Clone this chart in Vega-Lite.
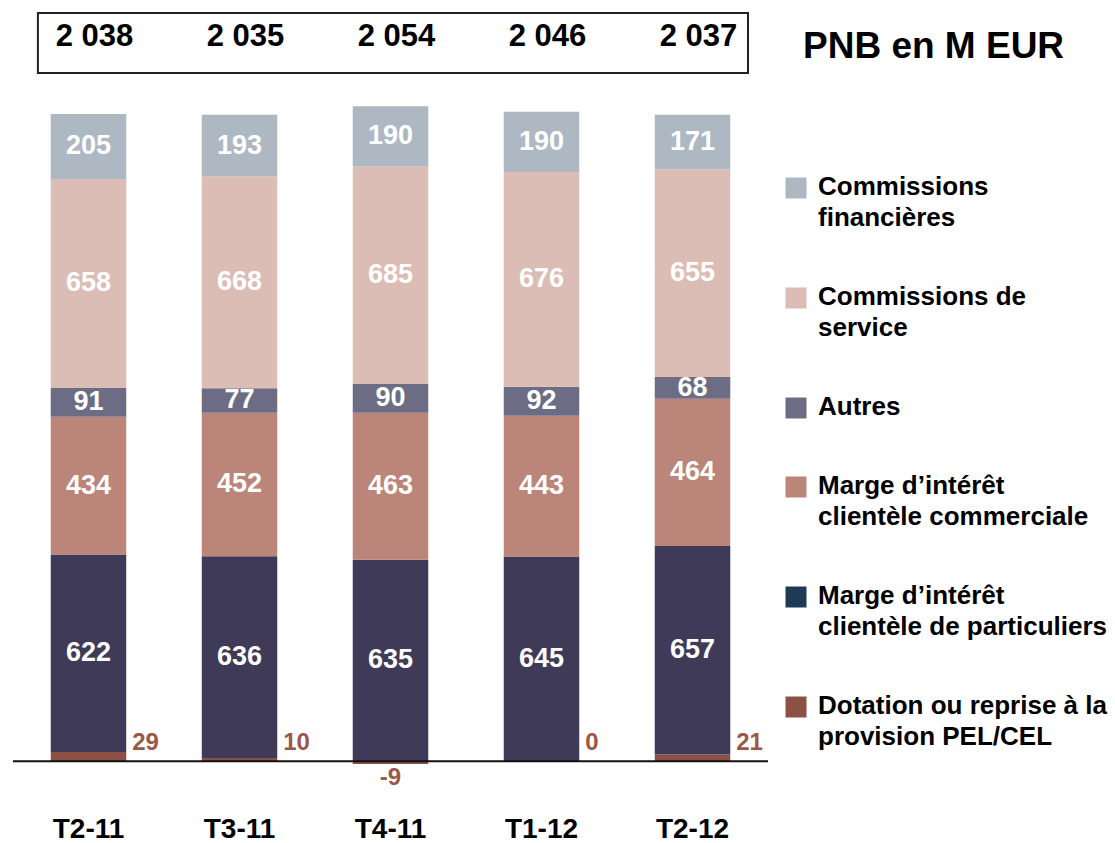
{
  "$schema": "https://vega.github.io/schema/vega-lite/v6.json",
  "autosize": {"type": "none"},
  "width": 755,
  "height": 781,
  "padding": {"left": 13, "top": 12, "right": 347, "bottom": 50},
  "background": "white",
  "config": {
    "view": {"stroke": null},
    "font": "Liberation Sans",
    "locale": {"number": {"decimal": ",", "thousands": " ", "grouping": [3], "currency": ["", " €"], "minus": "-"}},
    "style": {"guide-label": {"lineHeight": 31, "dy": -14}}
  },
  "title": {
    "text": "PNB en M EUR",
    "anchor": "start",
    "frame": "group",
    "orient": "top",
    "fontSize": 37,
    "font": "Liberation Sans",
    "fontWeight": "bold",
    "color": "black",
    "offset": 0,
    "dx": 790,
    "dy": 54
  },
  "datasets": {
    "pnb": [
      {"q": "T2-11", "cat": "Dotation ou reprise à la provision PEL/CEL", "ordre": 1, "value": 29},
      {"q": "T2-11", "cat": "Marge d’intérêt clientèle de particuliers", "ordre": 2, "value": 622},
      {"q": "T2-11", "cat": "Marge d’intérêt clientèle commerciale", "ordre": 3, "value": 434},
      {"q": "T2-11", "cat": "Autres", "ordre": 4, "value": 91},
      {"q": "T2-11", "cat": "Commissions de service", "ordre": 5, "value": 658},
      {"q": "T2-11", "cat": "Commissions financières", "ordre": 6, "value": 205},
      {"q": "T3-11", "cat": "Dotation ou reprise à la provision PEL/CEL", "ordre": 1, "value": 10},
      {"q": "T3-11", "cat": "Marge d’intérêt clientèle de particuliers", "ordre": 2, "value": 636},
      {"q": "T3-11", "cat": "Marge d’intérêt clientèle commerciale", "ordre": 3, "value": 452},
      {"q": "T3-11", "cat": "Autres", "ordre": 4, "value": 77},
      {"q": "T3-11", "cat": "Commissions de service", "ordre": 5, "value": 668},
      {"q": "T3-11", "cat": "Commissions financières", "ordre": 6, "value": 193},
      {"q": "T4-11", "cat": "Dotation ou reprise à la provision PEL/CEL", "ordre": 1, "value": -9},
      {"q": "T4-11", "cat": "Marge d’intérêt clientèle de particuliers", "ordre": 2, "value": 635},
      {"q": "T4-11", "cat": "Marge d’intérêt clientèle commerciale", "ordre": 3, "value": 463},
      {"q": "T4-11", "cat": "Autres", "ordre": 4, "value": 90},
      {"q": "T4-11", "cat": "Commissions de service", "ordre": 5, "value": 685},
      {"q": "T4-11", "cat": "Commissions financières", "ordre": 6, "value": 190},
      {"q": "T1-12", "cat": "Dotation ou reprise à la provision PEL/CEL", "ordre": 1, "value": 0},
      {"q": "T1-12", "cat": "Marge d’intérêt clientèle de particuliers", "ordre": 2, "value": 645},
      {"q": "T1-12", "cat": "Marge d’intérêt clientèle commerciale", "ordre": 3, "value": 443},
      {"q": "T1-12", "cat": "Autres", "ordre": 4, "value": 92},
      {"q": "T1-12", "cat": "Commissions de service", "ordre": 5, "value": 676},
      {"q": "T1-12", "cat": "Commissions financières", "ordre": 6, "value": 190},
      {"q": "T2-12", "cat": "Dotation ou reprise à la provision PEL/CEL", "ordre": 1, "value": 21},
      {"q": "T2-12", "cat": "Marge d’intérêt clientèle de particuliers", "ordre": 2, "value": 657},
      {"q": "T2-12", "cat": "Marge d’intérêt clientèle commerciale", "ordre": 3, "value": 464},
      {"q": "T2-12", "cat": "Autres", "ordre": 4, "value": 68},
      {"q": "T2-12", "cat": "Commissions de service", "ordre": 5, "value": 655},
      {"q": "T2-12", "cat": "Commissions financières", "ordre": 6, "value": 171}
    ],
    "totaux": [
      {"q": "T2-11", "total": 2038},
      {"q": "T3-11", "total": 2035},
      {"q": "T4-11", "total": 2054},
      {"q": "T1-12", "total": 2046},
      {"q": "T2-12", "total": 2037}
    ]
  },
  "layer": [
    {
      "data": {"values": [{}]},
      "mark": {"type": "rect", "fillOpacity": 0, "stroke": "#222222", "strokeWidth": 2},
      "encoding": {
        "x": {"datum": 0.033, "type": "quantitative", "scale": {"domain": [0, 1], "nice": false}, "axis": null},
        "x2": {"datum": 0.9735},
        "y": {"datum": 2168, "type": "quantitative", "scale": {"domain": [-100, 2360], "nice": false, "zero": false}, "axis": null},
        "y2": {"datum": 2357}
      }
    },
    {
      "data": {"name": "pnb"},
      "layer": [
        {
          "mark": {"type": "bar"},
          "encoding": {
            "x": {
              "field": "q",
              "type": "nominal",
              "scale": {"domain": ["T2-11", "T3-11", "T4-11", "T1-12", "T2-12"], "paddingInner": 0.5, "paddingOuter": 0.25},
              "axis": {
                "title": null,
                "domain": false,
                "ticks": false,
                "labelAngle": 0,
                "labelFontSize": 28,
                "labelFontWeight": "bold",
                "labelColor": "black",
                "labelFont": "Liberation Sans",
                "labelPadding": 36
              }
            },
            "y": {
              "field": "value",
              "type": "quantitative",
              "stack": "zero",
              "axis": null
            },
            "order": {"field": "ordre", "type": "quantitative"},
            "color": {
              "field": "cat",
              "type": "nominal",
              "condition": {"test": "datum.cat === 'Marge d’intérêt clientèle de particuliers'", "value": "#3e3a58"},
              "scale": {
                "domain": ["Commissions financières", "Commissions de service", "Autres", "Marge d’intérêt clientèle commerciale", "Marge d’intérêt clientèle de particuliers", "Dotation ou reprise à la provision PEL/CEL"],
                "range": ["#adb8c3", "#dbbdb5", "#6c6c84", "#bb857a", "#1f3a56", "#8d5045"]
              },
              "legend": {
                "title": null,
                "orient": "none",
                "legendX": 770,
                "legendY": 163,
                "padding": 0,
                "symbolType": "square",
                "symbolSize": 441,
                "symbolStrokeWidth": 0,
                "symbolOpacity": 1,
                "labelFontSize": 26,
                "labelFont": "Liberation Sans",
                "labelFontWeight": "bold",
                "labelColor": "black",
                "labelOffset": 9,
                "labelLimit": 400,
                "labelBaseline": "top",
                "rowPadding": 53,
                "labelExpr": "datum.label == 'Commissions financières' ? ['Commissions', 'financières'] : datum.label == 'Commissions de service' ? ['Commissions de', 'service'] : datum.label == 'Marge d’intérêt clientèle commerciale' ? ['Marge d’intérêt', 'clientèle commerciale'] : datum.label == 'Marge d’intérêt clientèle de particuliers' ? ['Marge d’intérêt', 'clientèle de particuliers'] : datum.label == 'Dotation ou reprise à la provision PEL/CEL' ? ['Dotation ou reprise à la', 'provision PEL/CEL'] : datum.label"
              }
            }
          }
        },
        {
          "mark": {"type": "text", "color": "white", "fontSize": 27, "fontWeight": "bold", "baseline": "middle", "align": "center"},
          "encoding": {
            "x": {"field": "q", "type": "nominal"},
            "y": {"field": "value", "type": "quantitative", "stack": "zero", "bandPosition": 0.5},
            "detail": {"field": "cat"},
            "order": {"field": "ordre", "type": "quantitative"},
            "text": {"field": "value", "type": "quantitative"},
            "opacity": {"condition": {"test": "datum.cat === 'Dotation ou reprise à la provision PEL/CEL'", "value": 0}, "value": 1}
          }
        },
        {
          "transform": [{"filter": "datum.cat === 'Dotation ou reprise à la provision PEL/CEL' && datum.value >= 0"}],
          "mark": {"type": "text", "color": "#9a5848", "fontSize": 24, "fontWeight": "bold", "align": "left", "baseline": "middle", "dx": 6, "dy": -18},
          "encoding": {
            "x": {"field": "q", "type": "nominal", "bandPosition": 1},
            "y": {"datum": 0, "type": "quantitative"},
            "text": {"field": "value", "type": "quantitative"}
          }
        },
        {
          "transform": [{"filter": "datum.cat === 'Dotation ou reprise à la provision PEL/CEL' && datum.value < 0"}],
          "mark": {"type": "text", "color": "#9a5848", "fontSize": 24, "fontWeight": "bold", "align": "center", "baseline": "top", "dy": 2},
          "encoding": {
            "x": {"field": "q", "type": "nominal"},
            "y": {"field": "value", "type": "quantitative"},
            "text": {"field": "value", "type": "quantitative"}
          }
        },
        {
          "data": {"name": "totaux"},
          "mark": {"type": "text", "color": "black", "fontSize": 31, "fontWeight": "bold", "align": "center", "baseline": "middle", "dx": 6},
          "encoding": {
            "x": {"field": "q", "type": "nominal"},
            "y": {"datum": 2280, "type": "quantitative"},
            "text": {"field": "total", "type": "quantitative", "format": ",d"}
          }
        }
      ]
    },
    {
      "data": {"values": [{}]},
      "mark": {"type": "rule", "color": "#111111", "strokeWidth": 2},
      "encoding": {"y": {"datum": 0, "type": "quantitative"}}
    }
  ],
  "resolve": {"scale": {"x": "independent"}}
}
